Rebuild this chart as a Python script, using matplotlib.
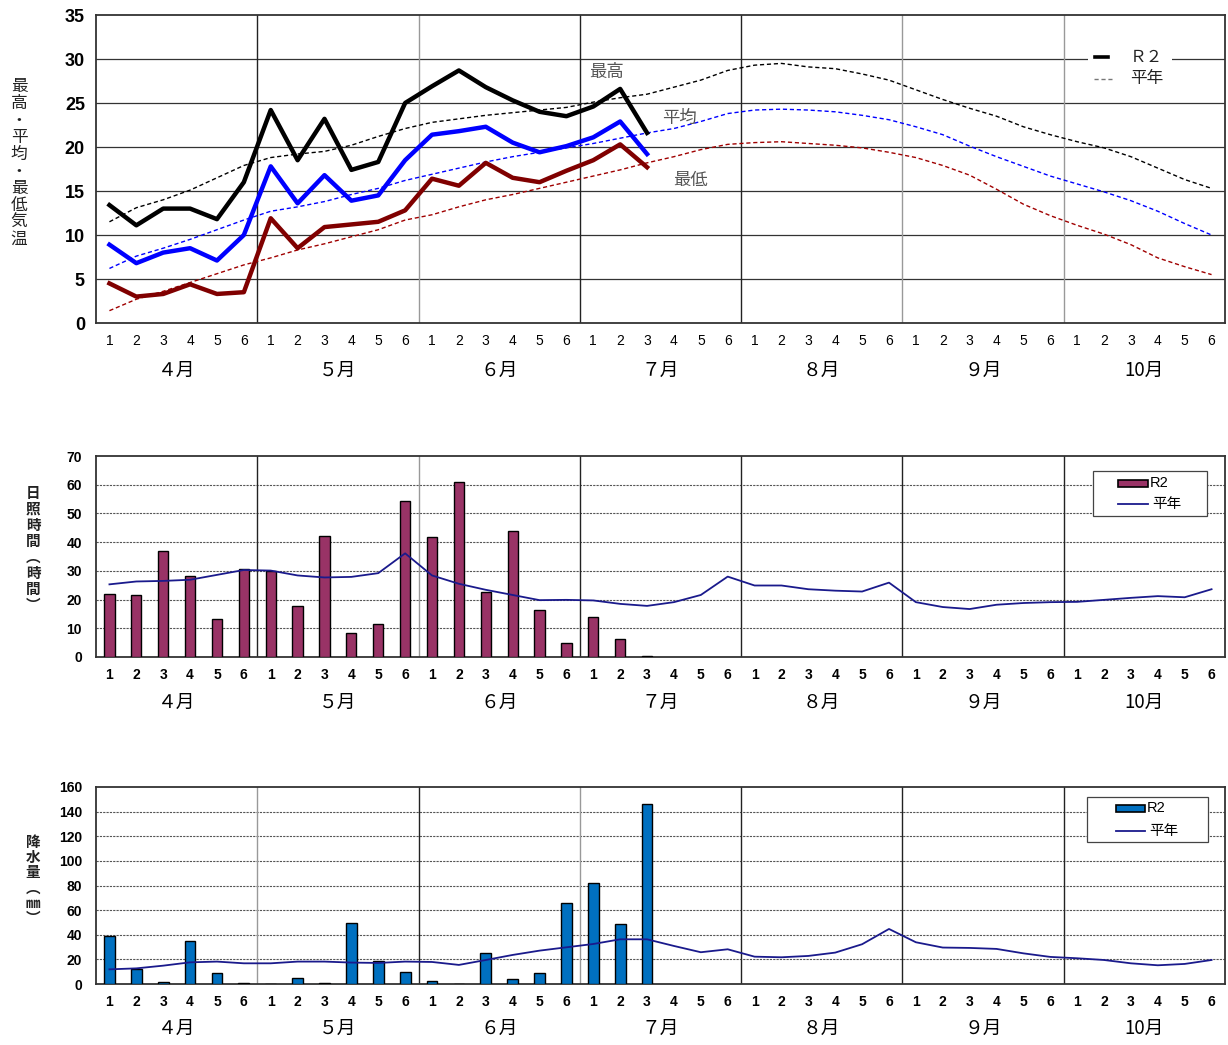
import matplotlib
matplotlib.use("Agg")
import matplotlib.pyplot as plt
from matplotlib.lines import Line2D
from matplotlib.patches import Rectangle
import matplotlib.transforms as mtransforms

plt.rcParams['font.family'] = ['Noto Sans CJK JP', 'DejaVu Sans']

months = ['４月', '５月', '６月', '７月', '８月', '９月', '10月']
dekads = ['1', '2', '3', '4', '5', '6']

# Temperature (R2, 4月1半旬〜7月3半旬)
tmax_r2 = [13.4, 11.1, 13.0, 13.0, 11.8, 16.0, 24.2, 18.5, 23.2, 17.4, 18.3, 25.0,
           26.9, 28.7, 26.8, 25.3, 24.0, 23.5, 24.6, 26.6, 21.6]
tavg_r2 = [8.9, 6.8, 8.0, 8.5, 7.1, 10.0, 17.8, 13.6, 16.8, 13.9, 14.5, 18.5,
           21.4, 21.8, 22.3, 20.5, 19.4, 20.1, 21.1, 22.9, 19.2]
tmin_r2 = [4.5, 3.0, 3.3, 4.4, 3.3, 3.5, 11.9, 8.5, 10.9, 11.2, 11.5, 12.8,
           16.4, 15.6, 18.2, 16.5, 16.0, 17.3, 18.5, 20.3, 17.7]

# Temperature normals (4月1半旬〜10月6半旬)
tmax_nrm = [11.5, 13.1, 14.0, 15.1, 16.5, 17.9, 18.8, 19.2, 19.5, 20.2, 21.2, 22.1,
            22.8, 23.2, 23.6, 23.9, 24.2, 24.5, 25.1, 25.6, 26.0, 26.8, 27.6, 28.7,
            29.3, 29.5, 29.1, 28.9, 28.3, 27.6, 26.5, 25.4, 24.4, 23.5, 22.3, 21.4,
            20.6, 19.9, 18.9, 17.6, 16.3, 15.3]
tavg_nrm = [6.2, 7.6, 8.5, 9.5, 10.6, 11.7, 12.7, 13.2, 13.8, 14.6, 15.3, 16.2,
            16.9, 17.6, 18.3, 18.9, 19.4, 19.9, 20.4, 21.0, 21.6, 22.1, 22.9, 23.8,
            24.2, 24.3, 24.2, 24.0, 23.6, 23.1, 22.3, 21.4, 20.1, 18.9, 17.8, 16.7,
            15.8, 14.9, 13.9, 12.7, 11.3, 10.0]
tmin_nrm = [1.4, 2.7, 3.6, 4.6, 5.6, 6.6, 7.4, 8.3, 9.0, 9.8, 10.6, 11.7,
            12.3, 13.2, 14.0, 14.6, 15.3, 16.0, 16.7, 17.4, 18.2, 18.9, 19.7, 20.3,
            20.5, 20.6, 20.4, 20.2, 19.9, 19.4, 18.8, 17.9, 16.8, 15.2, 13.5, 12.2,
            11.1, 10.1, 8.9, 7.4, 6.4, 5.5]

# Sunshine (hours)
sun_r2 = [22.0, 21.7, 37.0, 28.3, 13.2, 30.6, 30.0, 17.8, 42.3, 8.3, 11.6, 54.4,
          41.9, 60.9, 22.6, 44.0, 16.4, 4.8, 14.0, 6.2, 0.5]
sun_nrm = [25.3, 26.3, 26.5, 26.9, 28.6, 30.3, 30.1, 28.4, 27.7, 27.9, 29.2, 36.1,
           28.4, 25.5, 23.4, 21.6, 19.8, 19.9, 19.7, 18.5, 17.8, 19.1, 21.6, 28.0,
           24.9, 24.9, 23.6, 23.1, 22.8, 25.9, 19.1, 17.4, 16.7, 18.2, 18.8, 19.1,
           19.2, 19.9, 20.6, 21.2, 20.8, 23.6]

# Precipitation (mm)
pr_r2 = [39.3, 11.9, 1.9, 35.0, 9.2, 0.8, 0.0, 4.6, 1.1, 49.4, 18.7, 10.0,
         2.7, 0.0, 24.9, 4.3, 8.7, 65.6, 82.4, 48.5, 146.2]
pr_nrm = [11.9, 12.7, 14.9, 17.6, 18.2, 16.8, 16.8, 18.2, 18.2, 17.4, 17.1, 18.2,
          17.9, 15.5, 19.5, 23.6, 27.1, 29.8, 32.5, 36.3, 36.3, 30.9, 25.8, 28.2,
          22.2, 21.7, 22.8, 25.5, 32.3, 44.7, 33.9, 29.6, 29.3, 28.5, 24.9, 22.0,
          20.9, 19.5, 16.8, 15.2, 16.3, 19.5]

W, H = 1228, 1045
fig = plt.figure(figsize=(W / 100, H / 100), dpi=100)

def fx(x):
    return x / W

def fy(y):
    return 1 - y / H

def fig_axes(x0, y0, x1, y1):
    return fig.add_axes([x0 / W, 1 - y1 / H, (x1 - x0) / W, (y1 - y0) / H])

n = len(tmax_nrm)
xs = list(range(n))
xr = list(range(len(tmax_r2)))

NUMF = ['Liberation Sans', 'Noto Sans CJK JP']

def setup_x(ax, vcolors, num_bold, num_size, month_size, num_off, month_y):
    ax.set_xlim(-0.5, n - 0.5)
    ax.set_xticks(xs)
    ax.set_xticklabels(dekads * len(months), fontsize=num_size,
                       fontweight='bold' if num_bold else 'normal', family=NUMF)
    ax.tick_params(axis='x', length=0, pad=num_off)
    trans = mtransforms.blended_transform_factory(ax.transData, fig.transFigure)
    for i, m in enumerate(months):
        ax.text(i * 6 + 2.5, fy(month_y), m, transform=trans, ha='center',
                va='center', fontsize=month_size)
    for i, c in enumerate(vcolors):
        ax.axvline(i * 6 + 5.5, color=c, lw=1.0, zorder=1)
    for s in ax.spines.values():
        s.set_linewidth(1.3)
        s.set_color('#333333')

def vlabel_block(x, ycenter, chars, size, bold=False, ls=1.0):
    fig.text(fx(x), fy(ycenter), "\n".join(chars), ha='center', va='center',
             fontsize=size, fontweight='bold' if bold else 'normal',
             linespacing=ls, color='#222222')

def box_legend(x0, y0, x1, y1, patch_color, hx0, hx1, ry, ly, tx, fsize):
    fig.add_artist(Rectangle((fx(x0), fy(y1)), fx(x1) - fx(x0), fy(y0) - fy(y1),
                             transform=fig.transFigure, facecolor='white',
                             edgecolor='#444444', lw=0.9, zorder=5))
    fig.add_artist(Rectangle((fx(hx0), fy(ry + 3.5)), fx(hx1) - fx(hx0),
                             fy(ry - 3.5) - fy(ry + 3.5), transform=fig.transFigure,
                             facecolor=patch_color, edgecolor='black', lw=1.2, zorder=6))
    fig.add_artist(Line2D([fx(hx0), fx(hx1)], [fy(ly), fy(ly)], transform=fig.transFigure,
                          color='#1A1A8C', lw=1.3, zorder=6))
    fig.text(fx(tx), fy(ry), 'R2', ha='left', va='center', fontsize=fsize, zorder=7,
             family=['Liberation Sans', 'Noto Sans CJK JP'])
    fig.text(fx(tx + 2), fy(ly), '平年', ha='left', va='center', fontsize=fsize, zorder=7)

# ---------------- Top chart ----------------
ax1 = fig_axes(96, 15, 1225, 323)
ax1.set_ylim(0, 35)
ax1.set_yticks(range(0, 36, 5))
ax1.set_yticklabels([str(v) for v in range(0, 36, 5)], fontsize=13,
                    fontweight='bold', family=NUMF)
ax1.tick_params(axis='y', length=0, pad=8)
for v in range(5, 35, 5):
    ax1.axhline(v, color='#333333', lw=0.9, zorder=1)
setup_x(ax1, ['#222222', '#999999', '#222222', '#222222', '#999999', '#999999'],
        False, 10, 13.5, 8, 370)

ax1.plot(xs, tmax_nrm, color='black', lw=1.0, ls=(0, (3, 2)), zorder=3)
ax1.plot(xs, tavg_nrm, color='#0000FF', lw=1.0, ls=(0, (3, 2)), zorder=3)
ax1.plot(xs, tmin_nrm, color='#A00000', lw=1.0, ls=(0, (3, 2)), zorder=3)
ax1.plot(xr, tmax_r2, color='black', lw=3.2, zorder=4)
ax1.plot(xr, tavg_r2, color='#0000FF', lw=3.2, zorder=4)
ax1.plot(xr, tmin_r2, color='#800000', lw=3.2, zorder=4)

ax1.text(18.5, 28.5, '最高', fontsize=12.5, color='#555555', ha='center', va='center')
ax1.text(21.2, 23.3, '平均', fontsize=12.5, color='#555555', ha='center', va='center')
ax1.text(21.6, 16.2, '最低', fontsize=12.5, color='#555555', ha='center', va='center')

# top legend (frameless, white background)
fig.add_artist(Rectangle((fx(1088), fy(90)), fx(1172) - fx(1088), fy(45) - fy(90),
                         transform=fig.transFigure, facecolor='white',
                         edgecolor='none', zorder=5))
fig.add_artist(Line2D([fx(1095), fx(1108)], [fy(57), fy(57)], transform=fig.transFigure,
                      color='black', lw=2.6, zorder=6))
fig.add_artist(Line2D([fx(1094), fx(1112)], [fy(79), fy(79)], transform=fig.transFigure,
                      color='#777777', lw=1.0, ls=(0, (3, 2)), zorder=6))
fig.text(fx(1130), fy(57), 'Ｒ２', ha='left', va='center', fontsize=12, zorder=7,
         color='#222222')
fig.text(fx(1130), fy(79), '平年', ha='left', va='center', fontsize=12, zorder=7,
         color='#222222')

vlabel_block(19, 163, '最高・平均・最低気温', 12, ls=1.0)

# ---------------- Middle chart ----------------
ax2 = fig_axes(96, 456, 1225, 657)
ax2.set_ylim(0, 70)
ax2.set_yticks(range(0, 71, 10))
ax2.set_yticklabels([str(v) for v in range(0, 71, 10)], fontsize=10,
                    fontweight='bold', family=NUMF)
ax2.tick_params(axis='y', length=0, pad=10)
for v in range(10, 70, 10):
    ax2.axhline(v, color='#555555', lw=0.8, ls=(0, (2, 1)), zorder=1)
setup_x(ax2, ['#222222', '#999999', '#222222', '#222222', '#222222', '#222222'],
        True, 10, 13.5, 8, 702)
ax2.bar(xr, sun_r2, width=0.38, color='#993366', edgecolor='black', lw=1.0, zorder=3)
ax2.plot(xs, sun_nrm, color='#1A1A8C', lw=1.3, zorder=4)
box_legend(1093, 471, 1207, 516, '#993366', 1118, 1148, 483, 504, 1150, 10.5)
vlabel_block(33, 549, ['日', '照', '時', '間', '︵', '時', '間', '︶'], 10.5,
             bold=True, ls=1.0)

# ---------------- Bottom chart ----------------
ax3 = fig_axes(96, 787, 1225, 984)
ax3.set_ylim(0, 160)
ax3.set_yticks(range(0, 161, 20))
ax3.set_yticklabels([str(v) for v in range(0, 161, 20)], fontsize=10,
                    fontweight='bold', family=NUMF)
ax3.tick_params(axis='y', length=0, pad=10)
for v in range(20, 160, 20):
    ax3.axhline(v, color='#555555', lw=0.8, ls=(0, (2, 1)), zorder=1)
setup_x(ax3, ['#999999', '#222222', '#999999', '#222222', '#222222', '#222222'],
        True, 10, 13.5, 8, 1028)
ax3.bar(xr, pr_r2, width=0.4, color='#0070C0', edgecolor='black', lw=1.0, zorder=3)
ax3.plot(xs, pr_nrm, color='#1A1A8C', lw=1.3, zorder=4)
box_legend(1087, 797, 1208, 842, '#0070C0', 1116, 1145, 808, 831, 1147, 10.5)
vlabel_block(33, 880, ['降', '水', '量', '︵', '㎜', '︶'], 10.5, bold=True, ls=0.95)

fig.savefig('out.png', dpi=100, facecolor='white')
